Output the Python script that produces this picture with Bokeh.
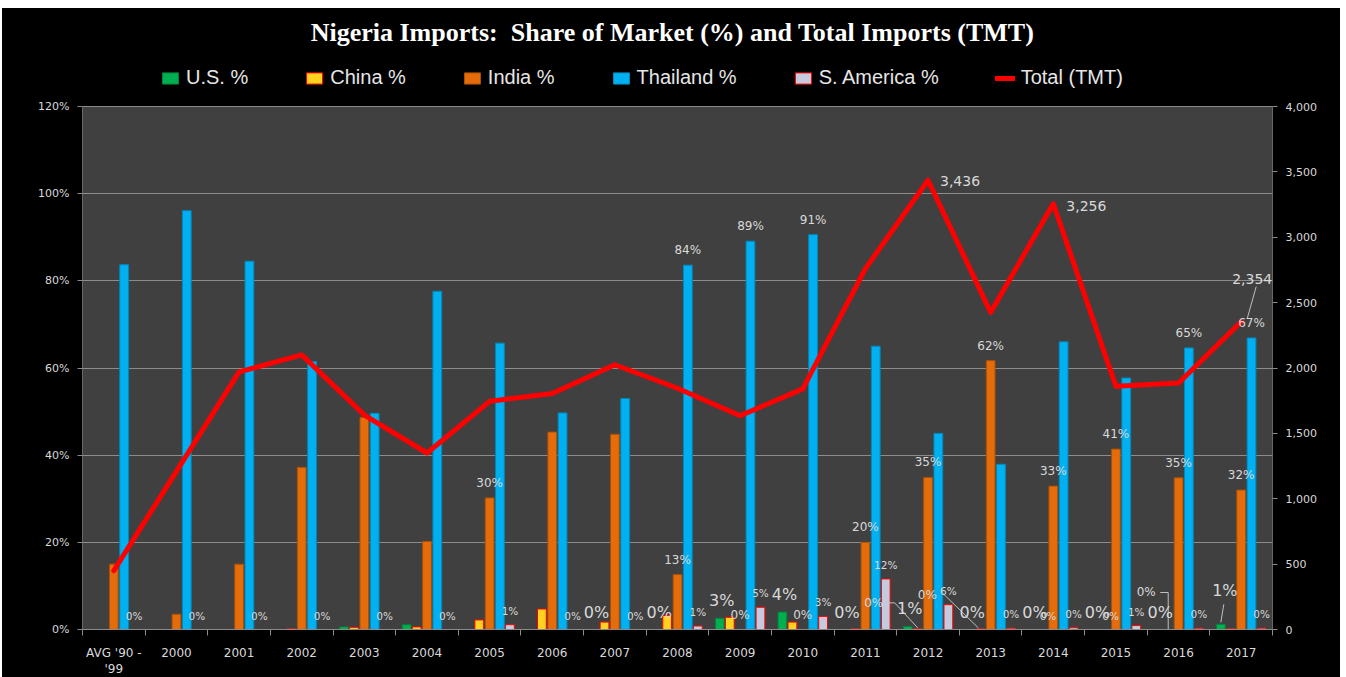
from bokeh.plotting import figure
from bokeh.models import (Range1d, LinearAxis, FixedTicker, ColumnDataSource, Legend, LegendItem,
                          Label, PrintfTickFormatter, NumeralTickFormatter, LabelSet, CDSView,
                          BooleanFilter, BoxAnnotation)
from bokeh.embed import file_html
from bokeh.resources import INLINE
from bokeh.core.properties import value

# ---------------- data ----------------
categories = ["AVG '90 -\n'99", "2000", "2001", "2002", "2003", "2004", "2005", "2006", "2007",
              "2008", "2009", "2010", "2011", "2012", "2013", "2014", "2015", "2016", "2017"]
us_pct = [0, 0, 0, 0, 0.6, 1.1, 0, 0, 0, 0, 2.6, 4.0, 0, 0.7, 0, 0, 0, 0, 1.2]
china_pct = [0, 0, 0, 0.15, 0.5, 0.6, 2.2, 4.7, 1.7, 3.2, 2.8, 1.7, 0.15, 0.15, 0.15, 0, 0, 0, 0.15]
india_pct = [15.0, 3.5, 15.0, 37.2, 48.7, 20.2, 30.2, 45.3, 44.8, 12.6, 0, 0, 20.0, 34.9, 61.7,
             32.9, 41.4, 34.8, 32.0]
thailand_pct = [83.7, 96.1, 84.5, 61.5, 49.6, 77.6, 65.7, 49.7, 53.0, 83.6, 89.1, 90.6, 65.0,
                45.0, 37.9, 66.0, 57.7, 64.6, 66.9]
samerica_pct = [0, 0, 0, 0, 0, 0, 1.1, 0, 0, 0.8, 5.1, 3.0, 11.6, 5.7, 0.3, 0.4, 0.9, 0.3, 0.3]
total_tmt = [450, 1210, 1970, 2100, 1640, 1350, 1745, 1805, 2025, 1845, 1635, 1840, 2760, 3436,
             2425, 3256, 1860, 1885, 2354]

left_ticks = [0, 20, 40, 60, 80, 100, 120]
right_ticks = [0, 500, 1000, 1500, 2000, 2500, 3000, 3500, 4000]

title_text = "Nigeria Imports:\u00a0 Share of Market (%) and Total Imports (TMT)"

# ---------------- style / geometry ----------------
PLOT_W, PLOT_H = 1190, 523      # the grey chart area
HEAD_H = 98                     # title + legend band above it (inside the frame)
FRAME_H = PLOT_H + HEAD_H
B_LEFT, B_RIGHT, B_BOTTOM = 80, 68, 43
N = len(categories)
L_MAX = left_ticks[-1]
R_MAX = right_ticks[-1]
PX_X = N / PLOT_W
PX_Y = L_MAX / PLOT_H
PX_T = R_MAX / PLOT_H

TXT = "#D9D9D9"
AX = "#8C8C8C"
FONT = "DejaVu Sans"

centers = [i + 0.5 for i in range(N)]
boundaries = list(range(N + 1))

p = figure(frame_width=PLOT_W, frame_height=FRAME_H, x_range=Range1d(0, N),
           y_range=Range1d(0, L_MAX * FRAME_H / PLOT_H),
           output_backend="svg", toolbar_location=None, title=None,
           min_border_left=B_LEFT, min_border_right=B_RIGHT, min_border_top=0,
           min_border_bottom=B_BOTTOM, background_fill_color="black",
           border_fill_color="black", outline_line_color=None, margin=(8, 0, 0, 2))
p.styles = {"background-color": "black"}
p.extra_y_ranges = {"tmt": Range1d(0, R_MAX * FRAME_H / PLOT_H)}

# grey plotting area
p.add_layout(BoxAnnotation(left=0, right=N, bottom=0, top=L_MAX, fill_color="#404040",
                           fill_alpha=1, line_color=AX, line_alpha=0.0, level="image"))

# x axis
xa = p.xaxis[0]
xa.ticker = FixedTicker(ticks=centers, minor_ticks=boundaries)
xa.major_label_overrides = {c: lab for c, lab in zip(centers, categories)}
xa.major_tick_line_color = None
xa.major_tick_out = 0
xa.major_tick_in = 0
xa.minor_tick_line_color = AX
xa.minor_tick_out = 6
xa.minor_tick_in = 0
xa.axis_line_color = AX
xa.major_label_standoff = 10
xa.major_label_text_color = TXT
xa.major_label_text_font = FONT
xa.major_label_text_font_size = "12px"

# left axis
ya = p.yaxis[0]
ya.ticker = FixedTicker(ticks=left_ticks)
ya.bounds = (0, L_MAX)
ya.formatter = PrintfTickFormatter(format="%d%%")
ya.axis_line_color = None
ya.major_tick_line_color = AX
ya.major_tick_out = 5
ya.major_tick_in = 0
ya.minor_tick_line_color = None
ya.major_label_standoff = 8
ya.major_label_text_color = TXT
ya.major_label_text_font = FONT
ya.major_label_text_font_size = "11px"

# right axis
ra = LinearAxis(y_range_name="tmt", ticker=FixedTicker(ticks=right_ticks),
                formatter=NumeralTickFormatter(format="0,0"), bounds=(0, R_MAX))
ra.axis_line_color = None
ra.major_tick_line_color = AX
ra.major_tick_out = 5
ra.major_tick_in = 0
ra.minor_tick_line_color = None
ra.major_label_standoff = 8
ra.major_label_text_color = TXT
ra.major_label_text_font = FONT
ra.major_label_text_font_size = "11px"
p.add_layout(ra, "right")

p.xgrid.visible = False
p.ygrid.grid_line_color = AX
p.ygrid.grid_line_width = 1

# ---------------- bars ----------------
BAR_W = 0.14
series = [
    ("U.S. %", us_pct, -0.325, "#00B050", "#00803A"),
    ("China %", china_pct, -0.165, "#FFD21F", "#FF0000"),
    ("India %", india_pct, 0.0, "#E46C0A", "#A84F05"),
    ("Thailand %", thailand_pct, 0.165, "#00B0F0", "#0088BB"),
    ("S. America %", samerica_pct, 0.325, "#C5CBDD", "#FF0000"),
]
legend_items = []
for name, vals, off, fill, line in series:
    src = ColumnDataSource(dict(x=[c + off for c in centers], top=vals))
    view = CDSView(filter=BooleanFilter([v > 0 for v in vals]))
    r = p.vbar(x="x", top="top", bottom=0, width=BAR_W, source=src, view=view,
               fill_color=fill, line_color=line, line_width=1)
    legend_items.append(LegendItem(label=name, renderers=[r]))

# ---------------- line ----------------
lsrc = ColumnDataSource(dict(x=centers, y=total_tmt))
lr = p.line(x="x", y="y", source=lsrc, y_range_name="tmt", line_color="#FF0000",
            line_width=5, line_join="round", line_cap="round")
legend_items.append(LegendItem(label="Total (TMT)", renderers=[lr]))

# ---------------- data labels ----------------
def pct_text(v):
    return f"{int(v + 0.5)}%"

def tmt_text(v):
    return f"{v:,}"

def add_labels(vals, offset, idxs, size, dx=0, dy=8, align="center", baseline="bottom",
               fmt=pct_text, y_range_name="default"):
    dxs = dx if isinstance(dx, list) else [dx] * len(idxs)
    dys = dy if isinstance(dy, list) else [dy] * len(idxs)
    src = ColumnDataSource(dict(x=[centers[i] + offset for i in idxs],
                                y=[vals[i] for i in idxs],
                                text=[fmt(vals[i]) for i in idxs], dx=dxs, dy=dys))
    ls = LabelSet(x="x", y="y", text="text", x_offset="dx", y_offset="dy", source=src,
                  text_font=value(FONT), text_font_size=size, text_color=TXT,
                  text_align=align, text_baseline=baseline, y_range_name=y_range_name)
    p.add_layout(ls)

add_labels(samerica_pct, 0.325, list(range(N)), "10.5px", dx=0)
add_labels(india_pct, 0.0, [6, 9, 10, 11, 12, 13, 14, 15, 16, 17, 18], "12px")
add_labels(thailand_pct, 0.165, [9, 10, 11, 17, 18], "12px")
add_labels(us_pct, -0.325, [8, 9, 10, 11, 12, 13, 14, 15, 16, 17], "16px", dx=2)
add_labels(us_pct, -0.325, [18], "16px", dx=4, dy=24)
add_labels(china_pct, -0.165, [15, 16], "10.5px", dx=5)
add_labels(china_pct, -0.165, [13, 14, 17], "12px", dx=[-44, -53, -22], dy=[19, 27, 31])
add_labels(total_tmt, 0.0, [13, 15], "14px", dx=[12, 13], dy=[-1, -2], align="left",
           baseline="middle", fmt=tmt_text, y_range_name="tmt")
add_labels(total_tmt, 0.0, [18], "14px", dx=11, dy=38, fmt=tmt_text, y_range_name="tmt")

# leader lines (relative to the data points, in pixels)
lead = dict(x0=[], y0=[], x1=[], y1=[])
def leader(x, y, kx, ky, pts):
    for (ax, ay), (bx, by) in zip(pts[:-1], pts[1:]):
        lead["x0"].append(x + ax * kx); lead["y0"].append(y + ay * ky)
        lead["x1"].append(x + bx * kx); lead["y1"].append(y + by * ky)

leader(centers[18], total_tmt[18] * PX_Y / PX_T, PX_X, PX_Y, [(6, 3), (15, 35)])
leader(centers[18] - 0.325, us_pct[18], PX_X, PX_Y, [(3, 20), (0, 2)])
leader(centers[13] - 0.165, china_pct[13], PX_X, PX_Y, [(-29, 26), (-23, 26), (0, 1)])
leader(centers[14] - 0.165, china_pct[14], PX_X, PX_Y, [(-38, 36), (-2, 1)])
leader(centers[17] - 0.165, china_pct[17], PX_X, PX_Y, [(-8, 37), (0, 37), (0, 0)])
# y-axis lines of the grey area (left and right edges)
for edge in (0, N):
    lead["x0"].append(edge); lead["y0"].append(0)
    lead["x1"].append(edge); lead["y1"].append(L_MAX)
p.segment(x0="x0", y0="y0", x1="x1", y1="y1", source=ColumnDataSource(lead),
          line_color="#BFBFBF", line_width=1)

# ---------------- title & legend (in the band above the grey area) ----------------
p.add_layout(Label(x=PLOT_W / 2 - 5, y=FRAME_H - 24, x_units="screen", y_units="screen",
                   text=title_text, text_align="center", text_baseline="middle",
                   text_font="Liberation Serif", text_font_style="bold",
                   text_font_size="26px", text_color="white"))

legend = Legend(items=legend_items, orientation="horizontal", location=(74, PLOT_H + 13),
                spacing=56, glyph_width=20, glyph_height=14, label_standoff=6,
                label_text_font="Liberation Sans", label_text_font_size="20px",
                label_text_color="#E6E6E6", background_fill_alpha=0, border_line_alpha=0,
                padding=4, margin=0)
p.add_layout(legend)

open("out.html", "w").write(file_html(p, INLINE))
